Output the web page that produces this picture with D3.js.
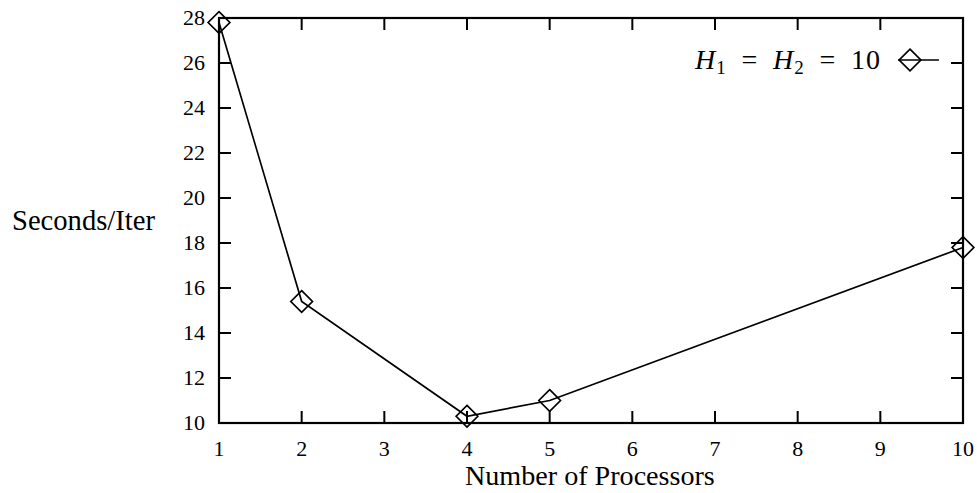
<!DOCTYPE html>
<html><head><meta charset="utf-8">
<script src="https://cdn.jsdelivr.net/npm/d3@7"></script>
<style>body{margin:0;background:#fff;} svg{display:block;} text{font-family:"Liberation Serif","DejaVu Serif",serif;}</style>
</head><body>
<svg id="c" width="977" height="493"></svg>
<script>
const processors = [1, 2, 4, 5, 10];
const secondsPerIter = [27.8, 15.4, 10.3, 11.0, 17.8];
const xTicks = [1, 2, 3, 4, 5, 6, 7, 8, 9, 10];
const yTicks = [10, 12, 14, 16, 18, 20, 22, 24, 26, 28];
const xTitle = "Number of Processors";
const yTitle = "Seconds/Iter";

const svg = d3.select("#c");
const L = 219, R = 963, T = 18, B = 423;
const x = d3.scaleLinear().domain([1, 10]).range([L, R]);
const y = d3.scaleLinear().domain([10, 28]).range([B, T]);
const tl = 12;

function fit(sel, w) {
  sel.attr("font-size", 20);
  const n = sel.node().getComputedTextLength();
  sel.attr("font-size", 20 * w / n);
}

svg.append("rect").attr("x", L).attr("y", T).attr("width", R - L).attr("height", B - T)
  .attr("fill", "none").attr("stroke", "#000").attr("stroke-width", 2.2);

const g = svg.append("g").attr("stroke", "#000").attr("stroke-width", 2);
xTicks.forEach(v => {
  g.append("line").attr("x1", x(v)).attr("x2", x(v)).attr("y1", B).attr("y2", B - tl);
  g.append("line").attr("x1", x(v)).attr("x2", x(v)).attr("y1", T).attr("y2", T + tl);
});
yTicks.forEach(v => {
  g.append("line").attr("x1", L).attr("x2", L + tl).attr("y1", y(v)).attr("y2", y(v));
  g.append("line").attr("x1", R).attr("x2", R - tl).attr("y1", y(v)).attr("y2", y(v));
});

svg.append("g").selectAll("text").data(xTicks).join("text")
  .attr("x", d => x(d)).attr("y", 456).attr("text-anchor", "middle")
  .attr("font-size", 22).text(d => d);
svg.append("g").selectAll("text").data(yTicks).join("text")
  .attr("x", 205).attr("y", d => y(d)).attr("dy", "0.33em").attr("text-anchor", "end")
  .attr("font-size", 22).text(d => d);

const xt = svg.append("text").attr("x", 465).attr("y", 485).text(xTitle);
fit(xt, 250);
const yt = svg.append("text").attr("x", 12).attr("y", 230).text(yTitle);
fit(yt, 143);

const pts = processors.map((p, i) => [p, secondsPerIter[i]]);
svg.append("path").datum(pts)
  .attr("d", d3.line().x(d => x(d[0])).y(d => y(d[1])))
  .attr("fill", "none").attr("stroke", "#000").attr("stroke-width", 1.7);

const diamond = d3.symbol().type(d3.symbolDiamond2).size(300);
svg.append("g").selectAll("path").data(pts).join("path")
  .attr("transform", d => `translate(${x(d[0])},${y(d[1])})`)
  .attr("d", diamond).attr("fill", "none").attr("stroke", "#000").attr("stroke-width", 1.7);

// legend
const lg = svg.append("g");
const lt = lg.append("text").attr("x", 695).attr("y", 69).attr("font-size", 28);
lt.append("tspan").attr("font-style", "italic").text("H");
lt.append("tspan").attr("font-size", 19).attr("dy", 5).text("1");
lt.append("tspan").attr("dy", -5).text("\u2002=\u2002");
lt.append("tspan").attr("font-style", "italic").text("H");
lt.append("tspan").attr("font-size", 19).attr("dy", 5).text("2");
lt.append("tspan").attr("dy", -5).text("\u2002=\u200210");
lt.attr("textLength", 185).attr("lengthAdjust", "spacing");
lg.append("line").attr("x1", 898).attr("x2", 939).attr("y1", 60).attr("y2", 60)
  .attr("stroke", "#000").attr("stroke-width", 1.7);
lg.append("path").attr("transform", "translate(910,60)").attr("d", diamond)
  .attr("fill", "none").attr("stroke", "#000").attr("stroke-width", 1.7);
</script>
</body></html>
